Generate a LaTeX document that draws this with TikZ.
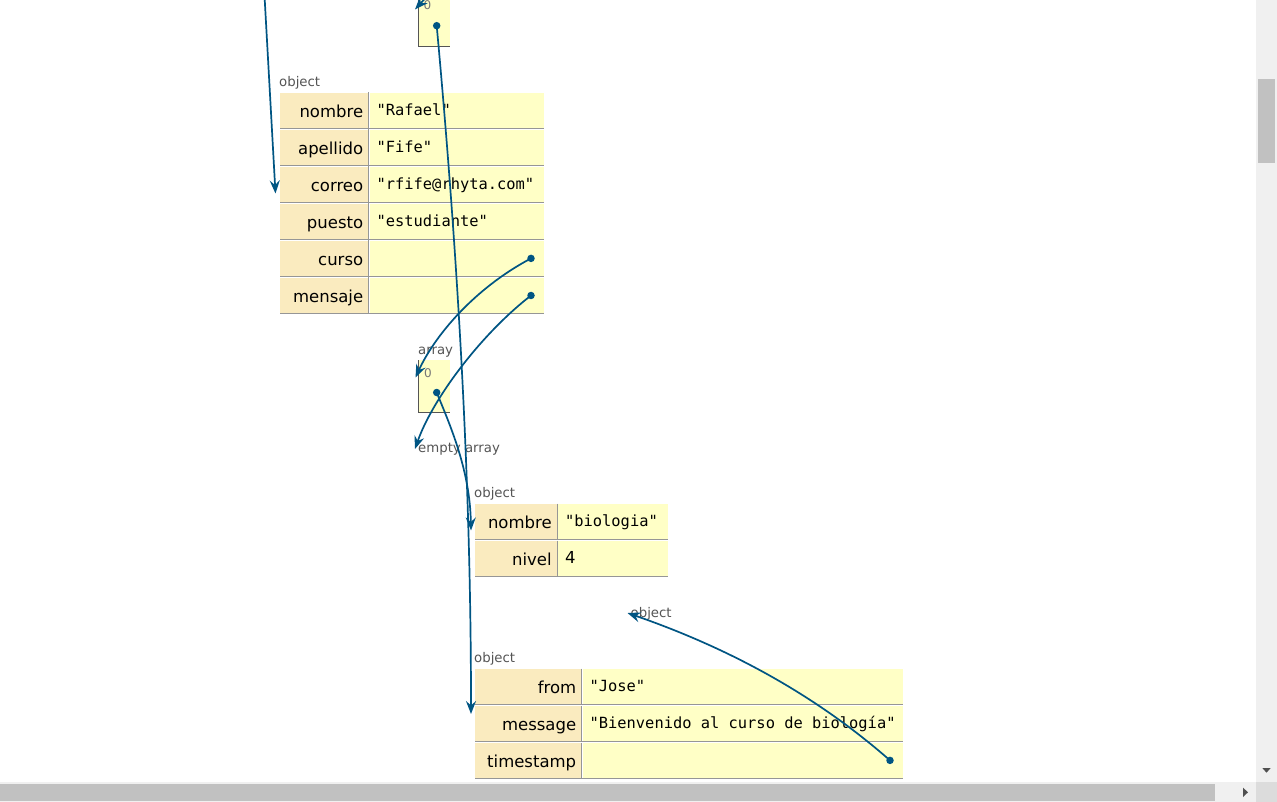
\documentclass[tikz,border=0pt]{standalone}
\usepackage{fontspec}
\setmainfont{DejaVu Sans}
\newfontfamily\valmono{DejaVu Sans Mono}
\usetikzlibrary{arrows.meta}
\definecolor{keybg}{HTML}{FAEBBF}
\definecolor{valbg}{HTML}{FFFFC6}
\definecolor{ptrcol}{HTML}{005583}
\definecolor{rulecol}{HTML}{969696}
\definecolor{typecol}{HTML}{555555}
\definecolor{idxcol}{HTML}{777777}
\definecolor{arrline}{HTML}{555555}
\definecolor{sbbg}{HTML}{F0F0F0}
\definecolor{sbthumb}{HTML}{C1C1C1}
\definecolor{sbcorner}{HTML}{DCDCDC}
\definecolor{sbarrow}{HTML}{505050}
\tikzset{
  keycell/.style={fill=keybg, anchor=north west, inner sep=0pt, minimum height=35.8pt},
  valcell/.style={fill=valbg, anchor=north west, inner sep=0pt, minimum height=35.8pt},
  keytext/.style={inner sep=0pt, font=\fontsize{16.5}{18}\selectfont},
  monotext/.style={inner sep=0pt, font=\valmono\fontsize{15.4}{18}\selectfont},
  numtext/.style={inner sep=0pt, font=\fontsize{16.5}{18}\selectfont},
  rowrule/.style={draw=rulecol, line width=1pt},
  typelabel/.style={inner sep=0pt, anchor=base west, text=typecol, font=\fontsize{13.3}{15}\selectfont},
  idxlabel/.style={inner sep=0pt, anchor=base west, text=idxcol, font=\fontsize{12}{14}\selectfont},
  arrcell/.style={fill=valbg, anchor=north west, inner sep=0pt, minimum width=32pt},
  arrborder/.style={draw=arrline, line width=1pt},
  ptrdot/.style={circle, fill=ptrcol, inner sep=0pt, minimum size=7.5pt},
  ptr/.style={draw=ptrcol, line width=1.7pt, -{Stealth[length=13pt,width=10pt,inset=4.5pt]}},
}
% #1 name, #2 left x, #3 key width, #4 value width, #5 top y, #6 key, #7 value, #8 value style
\newcommand\objrow[8]{%
  \node[keycell, minimum width=#3pt] (#1k) at (#2,#5) {};
  \node[valcell, minimum width=#4pt, xshift=1pt] (#1v) at (#1k.north east) {};
  \draw[rowrule] (#1k.south west) -- (#1v.south east);
  \draw[rowrule] ([xshift=-0.5pt]#1v.north west) -- ([xshift=-0.5pt]#1v.south west);
  \node[keytext, anchor=base east] (#1kt) at ([xshift=-5pt,yshift=-7pt]#1k.east) {#6};
  \node[#8, anchor=base west] (#1vt) at ([xshift=7pt,yshift=-5.3pt]#1v.west) {#7};
}
\begin{document}
\begin{tikzpicture}[x=1pt,y=-1pt]
\useasboundingbox (0,0) rectangle (1277,802);
\fill[white] (0,0) rectangle (1277,802);
\clip (0,0) rectangle (1277,802);

% ---- top array (partly out of view)
\node[arrcell, minimum height=53pt] (arrtop) at (418,-7) {};
\draw[arrborder] (arrtop.north west) -- (arrtop.south west) -- (arrtop.south east);
\node[idxlabel] (arrtopidx) at (423.5,9.3) {0};
\node[ptrdot] (arrtopdot) at (436.7,25.7) {};

% ---- object 1
\node[typelabel] (obj1lab) at (279,86.5) {object};
\objrow{oa}{280}{88}{174}{92.5}{nombre}{"Rafael"}{monotext}
\objrow{ob}{280}{88}{174}{129.5}{apellido}{"Fife"}{monotext}
\objrow{oc}{280}{88}{174}{166.5}{correo}{"rfife@rhyta.com"}{monotext}
\objrow{od}{280}{88}{174}{203.5}{puesto}{"estudiante"}{monotext}
\objrow{oe}{280}{88}{174}{240.5}{curso}{}{monotext}
\objrow{of}{280}{88}{174}{277.5}{mensaje}{}{monotext}
\node[ptrdot] (cursodot) at (531,258.4) {};
\node[ptrdot] (mensajedot) at (531,295.5) {};

% ---- middle array
\node[typelabel] (arrmidlab) at (418,354.5) {array};
\node[arrcell, minimum height=51.7pt] (arrmid) at (418,360) {};
\draw[arrborder] (arrmid.north west) -- (arrmid.south west) -- (arrmid.south east);
\node[idxlabel] (arrmididx) at (424,377) {0};
\node[ptrdot] (arrmiddot) at (436.7,392.5) {};

% ---- empty array
\node[typelabel] (emptylab) at (418,452) {empty array};

% ---- object 2
\node[typelabel] (obj2lab) at (474,497) {object};
\objrow{pa}{475}{81.5}{110}{503.5}{nombre}{"biologia"}{monotext}
\objrow{pb}{475}{81.5}{110}{540.5}{nivel}{4}{numtext}

% ---- object label (timestamp target)
\node[typelabel] (obj4lab) at (630.5,617.5) {object};

% ---- object 3
\node[typelabel] (obj3lab) at (474,662) {object};
\objrow{qa}{475}{106}{320}{668.5}{from}{"Jose"}{monotext}
\objrow{qb}{475}{106}{320}{705.5}{message}{"Bienvenido al curso de biología"}{monotext}
\objrow{qc}{475}{106}{320}{742.5}{timestamp}{}{monotext}
\node[ptrdot] (tsdot) at (890,760.4) {};

% ---- pointer ends
\coordinate (leftsrc) at (264.3,-8);
\coordinate (leftend) at (275.5,193.5);
\coordinate (topsrc) at (430,-7);
\coordinate (topend) at (415,9.5);
\coordinate (arrmidend) at (415.5,377.5);
\coordinate (emptyend) at (415,449);
\coordinate (msgend) at (471,714);
\coordinate (bioend) at (471,530.5);
\coordinate (tsend) at (627.5,613);

% ---- pointers
\draw[ptr] (leftsrc) -- (leftend);
\draw[ptr] (topsrc) -- (topend);
\draw[ptr] (arrtopdot.center) .. controls (460,280) and (471,500) .. (msgend);
\draw[ptr] (cursodot.center) .. controls (475,288) and (435,335) .. (arrmidend);
\draw[ptr] (mensajedot.center) .. controls (480,335) and (432,400) .. (emptyend);
\draw[ptr] (arrmiddot.center) .. controls (450,425) and (470,470) .. (bioend);
\draw[ptr] (tsdot.center) .. controls (810,690) and (720,645) .. (tsend);

% ---- scrollbars
\fill[sbbg] (1256,0) rectangle (1277,782);
\fill[sbthumb] (1258,79) rectangle (1275,163);
\fill[sbarrow] (1262.3,768) -- (1270.7,768) -- (1266.5,772.7) -- cycle;
\fill[sbbg] (0,782) rectangle (1256,802);
\fill[sbthumb] (0,784) rectangle (1215,800.7);
\fill[sbarrow] (1243,787.7) -- (1243,797) -- (1248,792.3) -- cycle;
\fill[sbcorner] (1256,782) rectangle (1277,802);
\end{tikzpicture}
\end{document}
